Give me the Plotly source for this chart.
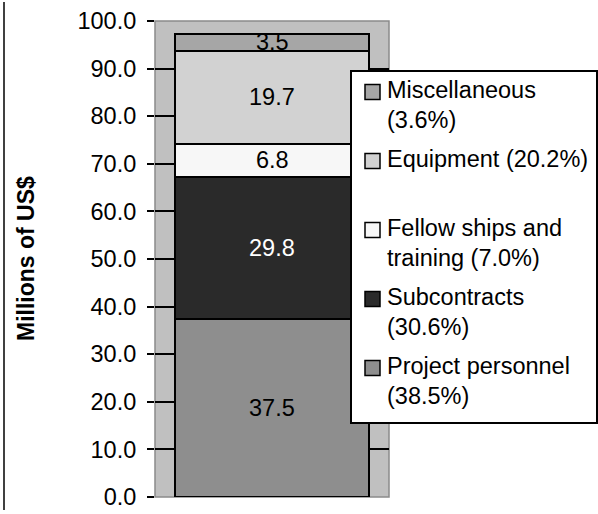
import plotly.graph_objects as go

# ---- data ----
categories = ["Project personnel", "Subcontracts", "Fellowships and training", "Equipment", "Miscellaneous"]
values = [37.5, 29.8, 6.8, 19.7, 3.5]
legend_lines = {
    "Miscellaneous": ["Miscellaneous", "(3.6%)"],
    "Equipment": ["Equipment (20.2%)", ""],
    "Fellowships and training": ["Fellow ships and", "training (7.0%)"],
    "Subcontracts": ["Subcontracts", "(30.6%)"],
    "Project personnel": ["Project personnel", "(38.5%)"],
}
legend_order = ["Miscellaneous", "Equipment", "Fellowships and training", "Subcontracts", "Project personnel"]
colors = {
    "Project personnel": "#8e8e8e",
    "Subcontracts": "#2a2a2a",
    "Fellowships and training": "#f7f7f7",
    "Equipment": "#d2d2d2",
    "Miscellaneous": "#a6a6a6",
}
label_colors = {
    "Project personnel": "black",
    "Subcontracts": "white",
    "Fellowships and training": "black",
    "Equipment": "black",
    "Miscellaneous": "black",
}
y_ticks = [0, 10, 20, 30, 40, 50, 60, 70, 80, 90, 100]
x_cat = [""]

W, H = 598, 514
L, R, T, B = 155, 389, 21, 497
FONT = "Liberation Sans, Arial, sans-serif"
FS = 23.5


def px(x):
    return (x - L) / (R - L)


def py(y):
    return (B - y) / (B - T)


fig = go.Figure()
base = 0.0
annotations = []
for cat, v in zip(categories, values):
    fig.add_trace(go.Bar(
        x=x_cat, y=[v], name=cat, width=0.83,
        marker=dict(color=colors[cat], line=dict(color="black", width=2)),
        showlegend=False, hoverinfo="skip",
    ))
    annotations.append(dict(
        x=0, y=base + v / 2, xref="x", yref="y", text=f"{v:.1f}", showarrow=False,
        font=dict(family=FONT, size=FS, color=label_colors[cat]),
    ))
    base += v

shapes = []
# plot-area border
shapes.append(dict(type="rect", xref="paper", yref="paper", x0=0, x1=1, y0=0, y1=1,
                   line=dict(color="#8a8a8a", width=1.5), layer="below"))
# outer chart border (left edge visible)
shapes.append(dict(type="line", xref="paper", yref="paper", x0=px(4), x1=px(4), y0=py(510), y1=py(2),
                   line=dict(color="black", width=1.5)))
# legend box
shapes.append(dict(type="rect", xref="paper", yref="paper", x0=px(351), x1=px(597), y0=py(423), y1=py(71),
                   line=dict(color="black", width=2), fillcolor="white", layer="above"))
item_top = 90
for i, cat in enumerate(legend_order):
    yc = item_top + i * 69
    shapes.append(dict(type="rect", xref="paper", yref="paper",
                       x0=px(365), x1=px(380), y0=py(yc + 2 + 7.5), y1=py(yc + 2 - 7.5),
                       line=dict(color="black", width=1.5), fillcolor=colors[cat], layer="above"))
    for j, line in enumerate(legend_lines[cat]):
        if line:
            annotations.append(dict(
                x=px(385), y=py(yc + j * 30), xref="paper", yref="paper", text=line,
                showarrow=False, xanchor="left", yanchor="middle",
                font=dict(family=FONT, size=FS, color="black"),
            ))

annotations.append(dict(
    x=px(26), y=py(259), xref="paper", yref="paper", text="<b>Millions of US$</b>",
    showarrow=False, textangle=-90, xanchor="center", yanchor="middle",
    font=dict(family=FONT, size=23, color="black"),
))

fig.update_layout(
    width=W, height=H,
    margin=dict(l=L, r=W - R, t=T, b=H - B, pad=0, autoexpand=False),
    paper_bgcolor="white", plot_bgcolor="#c0c0c0",
    barmode="stack", bargap=0,
    xaxis=dict(showticklabels=False, showgrid=False, zeroline=False, ticks="",
               range=[-0.5, 0.5], showline=False, fixedrange=True, automargin=False),
    yaxis=dict(range=[0, 100], tickvals=y_ticks, ticktext=[f"{t:.1f}" for t in y_ticks],
               showgrid=True, gridcolor="black", gridwidth=1.5, zeroline=False,
               ticks="outside", ticklen=7, tickcolor="black", tickwidth=1.5,
               ticklabelstandoff=6, automargin=False,
               tickfont=dict(family=FONT, size=FS, color="black"),
               showline=False),
    shapes=shapes, annotations=annotations,
    showlegend=False,
)

fig.write_html("out.html", config={"displayModeBar": False, "responsive": False},
               post_script="document.body.style.margin='0';document.body.style.overflow='hidden';")
